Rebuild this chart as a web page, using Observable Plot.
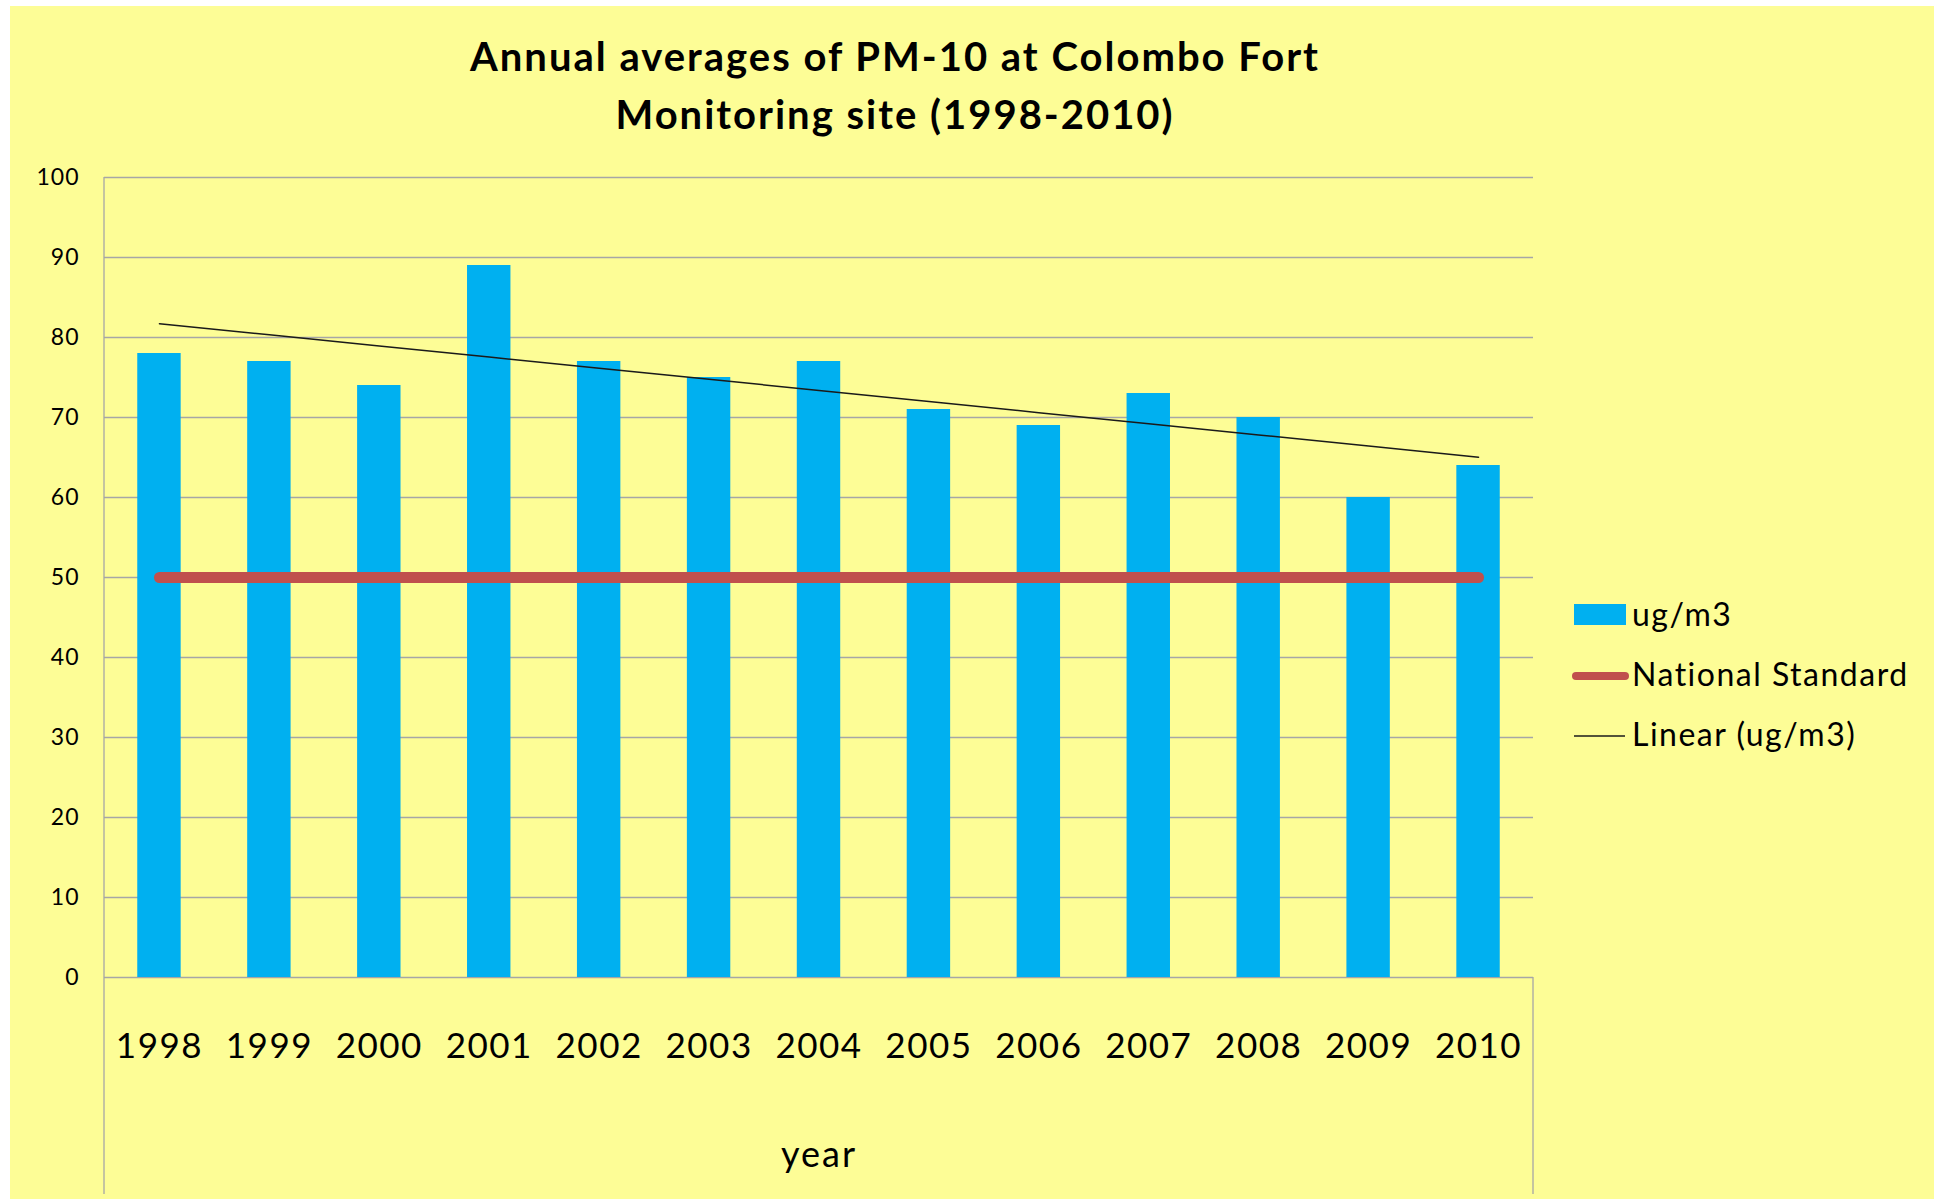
<!DOCTYPE html>
<html>
<head>
<meta charset="utf-8">
<script src="https://cdn.jsdelivr.net/npm/d3@7"></script>
<script src="https://cdn.jsdelivr.net/npm/@observablehq/plot@0.6"></script>
<style>
  html, body { margin: 0; padding: 0; background: #ffffff; }
  body { width: 1934px; height: 1199px; position: relative; overflow: hidden; font-family: Lato, "Open Sans", sans-serif; }
  #panel { position: absolute; left: 10px; top: 6px; right: 0; bottom: 0; background: #fdfd96; }
  #chart { position: absolute; left: 0; top: 0; }
  #title { position: absolute; left: 2px; top: 27px; width: 1786px; text-align: center;
           font-weight: 700; font-size: 40px; line-height: 58px; letter-spacing: 2px; color: #000; }
  #legend { position: absolute; left: 1571px; top: 584px; font-size: 32px; line-height: 60px; letter-spacing: 1.5px; color: #000; }
  #legend .row { display: flex; align-items: center; height: 60px; }
  #legend svg { display: block; margin-right: 3px; }
</style>
</head>
<body>
<div id="panel"></div>
<div id="chart"></div>
<div id="title">Annual averages of PM-10 at Colombo Fort<br>Monitoring site (1998-2010)</div>
<div id="legend"></div>
<script>
// Annual mean PM-10 concentration (ug/m3) at the Colombo Fort monitoring site
const years = ["1998", "1999", "2000", "2001", "2002", "2003", "2004", "2005", "2006", "2007", "2008", "2009", "2010"];
const pm10 = [78, 77, 74, 89, 77, 75, 77, 71, 69, 73, 70, 60, 64];
const nationalStandard = [50, 50, 50, 50, 50, 50, 50, 50, 50, 50, 50, 50, 50];
const yTicks = [0, 10, 20, 30, 40, 50, 60, 70, 80, 90, 100];

const barColor = "#00b0f0";
const standardColor = "#c0504d";
const trendColor = "#1a1a1a";

// Least-squares linear trend of the annual means
const n = pm10.length;
const meanX = d3.mean(d3.range(n));
const meanY = d3.mean(pm10);
const slope = d3.sum(pm10, (v, i) => (i - meanX) * (v - meanY)) / d3.sum(d3.range(n), i => (i - meanX) ** 2);
const intercept = meanY - slope * meanX;

const rows = years.map((year, i) => ({
  year,
  value: pm10[i],
  standard: nationalStandard[i],
  trend: intercept + slope * i
}));

// Plot-area border lines that run on below the category axis
function borderLines(index, scales, values, dims) {
  const g = d3.create("svg:g").attr("stroke", "#a6a6a6").attr("stroke-width", 1.3);
  const bottom = dims.height - 5;
  g.append("line")
    .attr("x1", dims.marginLeft).attr("x2", dims.marginLeft)
    .attr("y1", dims.marginTop).attr("y2", bottom);
  g.append("line")
    .attr("x1", dims.width - dims.marginRight).attr("x2", dims.width - dims.marginRight)
    .attr("y1", scales.y(0)).attr("y2", bottom);
  return g.node();
}

const chart = Plot.plot({
  width: 1934,
  height: 1199,
  marginLeft: 104,
  marginRight: 401,
  marginTop: 177,
  marginBottom: 222,
  style: { background: "transparent", fontFamily: "Lato, 'Open Sans', sans-serif", color: "#000" },
  x: { domain: years, paddingInner: 0.605, paddingOuter: 0.3025, align: 0.5, round: false, label: null },
  y: { domain: [0, 100], label: null },
  marks: [
    Plot.ruleY(yTicks, { stroke: "#a6a6a6", strokeWidth: 1.3 }),
    borderLines,
    Plot.barY(rows, { x: "year", y: "value", fill: barColor }),
    Plot.lineY(rows, { x: "year", y: "standard", stroke: standardColor, strokeWidth: 11, strokeLinecap: "round" }),
    Plot.lineY(rows, { x: "year", y: "trend", stroke: trendColor, strokeWidth: 1.5 }),
    Plot.axisY({ ticks: yTicks, tickSize: 0, tickPadding: 25, fontSize: 23, label: null }),
    Plot.axisX({ tickSize: 0, tickPadding: 56, fontSize: 35, label: null }),
    Plot.text(["year"], { text: d => d, frameAnchor: "bottom", lineAnchor: "top", dy: 164, fontSize: 36 })
  ]
});
document.getElementById("chart").appendChild(chart);

// Wider letter spacing on the axis labels
d3.select(chart).selectAll("[aria-label='y-axis tick label'] text").style("letter-spacing", "1px");
d3.select(chart).selectAll("[aria-label='x-axis tick label'] text").style("letter-spacing", "1.5px");
d3.select(chart).selectAll("[aria-label='text'] text").style("letter-spacing", "2px");

// Legend: bar swatch, standard line, trend line
const legendItems = [
  { label: "ug/m3", kind: "bar" },
  { label: "National Standard", kind: "standard" },
  { label: "Linear (ug/m3)", kind: "trend" }
];
const legend = d3.select("#legend");
for (const item of legendItems) {
  const row = legend.append("div").attr("class", "row");
  const sw = row.append("svg").attr("width", 58).attr("height", 24);
  if (item.kind === "bar") {
    sw.append("rect").attr("x", 3).attr("y", 2).attr("width", 52).attr("height", 21).attr("fill", barColor);
  } else if (item.kind === "standard") {
    sw.append("line").attr("x1", 5).attr("x2", 54).attr("y1", 14).attr("y2", 14)
      .attr("stroke", standardColor).attr("stroke-width", 8).attr("stroke-linecap", "round");
  } else {
    sw.append("line").attr("x1", 3).attr("x2", 54).attr("y1", 14).attr("y2", 14)
      .attr("stroke", trendColor).attr("stroke-width", 1.5);
  }
  row.append("span").text(item.label);
}
</script>
</body>
</html>
